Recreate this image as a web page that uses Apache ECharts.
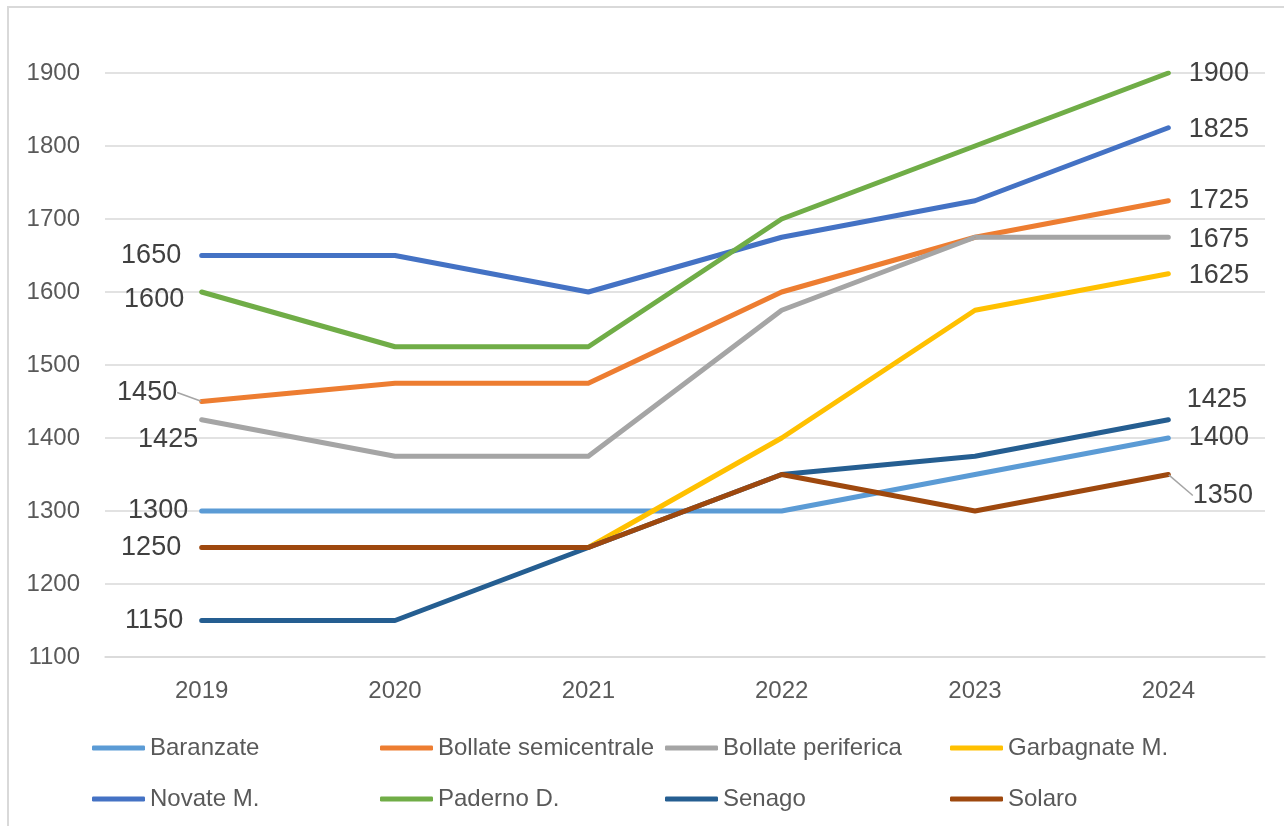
<!DOCTYPE html>
<html>
<head>
<meta charset="utf-8">
<script src="https://cdn.jsdelivr.net/npm/echarts@6/dist/echarts.min.js"></script>
<style>
  html, body { margin: 0; padding: 0; background: #fff; }
  #chart { width: 1284px; height: 826px; }
</style>
</head>
<body>
<div id="chart"></div>
<script>
var years = ['2019', '2020', '2021', '2022', '2023', '2024'];
var yTicks = [1100, 1900, 100];  // min, max, step

var baranzate = [1300, 1300, 1300, 1300, 1350, 1400];
var bollateSemicentrale = [1450, 1475, 1475, 1600, 1675, 1725];
var bollatePeriferica = [1425, 1375, 1375, 1575, 1675, 1675];
var garbagnate = [null, null, 1250, 1400, 1575, 1625];
var novate = [1650, 1650, 1600, 1675, 1725, 1825];
var paderno = [1600, 1525, 1525, 1700, 1800, 1900];
var senago = [1150, 1150, 1250, 1350, 1375, 1425];
var solaro = [1250, 1250, 1250, 1350, 1300, 1350];

var seriesNames = ['Baranzate', 'Bollate semicentrale', 'Bollate periferica', 'Garbagnate M.',
                   'Novate M.', 'Paderno D.', 'Senago', 'Solaro'];
var seriesValues = [baranzate, bollateSemicentrale, bollatePeriferica, garbagnate,
                    novate, paderno, senago, solaro];

// styling, kept apart from the data
var colors = ['#5B9BD5', '#ED7D31', '#A5A5A5', '#FFC000', '#4472C4', '#70AD47', '#255E91', '#9E480E'];
// label placement for first / last point: [dx, dy] ; null = no label
var firstOffsets = [[7, 0], [0, 0], [17, 20], null, [0, 0], [3, 8], [2, 0], [0, 4]];
var lastOffsets = [[0, 0], [0, 2], [0, 2], [0, 2], [0, 2], [0, 1], [-2, -20], [0, 0]];
// labels pushed away with a leader line: series index -> {dataIndex: [dx, dy]}
var leaderMoves = { 1: { 0: [-4, -9] }, 7: { 5: [4, 21] } };
var legendCols = [87, 375, 660, 945];
var legendRows = [731, 782];

var fontFamily = 'Liberation Sans, Arial, sans-serif';

function pointLabel(pos, off) {
  return {
    show: true,
    position: pos,
    distance: 20,
    offset: off,
    fontSize: 27,
    color: '#404040',
    fontFamily: fontFamily
  };
}

function buildData(i) {
  var vals = seriesValues[i];
  var moves = leaderMoves[i] || {};
  var first = -1;
  vals.forEach(function (v, k) { if (first < 0 && v != null) first = k; });
  return vals.map(function (v, k) {
    if (v == null) return null;
    var item = { value: v };
    if (k === first && firstOffsets[i]) {
      item.label = pointLabel('left', firstOffsets[i]);
    } else if (k === vals.length - 1) {
      item.label = pointLabel('right', lastOffsets[i]);
    }
    if (!moves[k]) item.labelLine = { show: false };
    return item;
  });
}

var series = seriesNames.map(function (name, i) {
  var moves = leaderMoves[i];
  return {
    name: name,
    type: 'line',
    data: buildData(i),
    symbol: 'circle',
    symbolSize: 1,
    showSymbol: true,
    connectNulls: false,
    silent: true,
    color: colors[i],
    lineStyle: { width: 5, color: colors[i], cap: 'round', join: 'round' },
    itemStyle: { color: colors[i] },
    label: { show: false },
    labelLine: moves ? { show: true, lineStyle: { color: '#A5A5A5', width: 1.5 } } : { show: false },
    labelLayout: moves ? function (p) {
      var m = moves[p.dataIndex];
      return m ? { dx: m[0], dy: m[1] } : {};
    } : null
  };
});

var legends = seriesNames.map(function (name, i) {
  return {
    data: [name],
    left: legendCols[i % 4],
    top: legendRows[Math.floor(i / 4)],
    itemWidth: 53, itemHeight: 5, itemGap: 0,
    icon: 'roundRect',
    textStyle: { fontSize: 24, color: '#595959', fontFamily: fontFamily }
  };
});

var chart = echarts.init(document.getElementById('chart'));
chart.setOption({
  animation: false,
  backgroundColor: '#fff',
  graphic: [{
    type: 'rect',
    shape: { x: 8, y: 7, width: 1300, height: 840 },
    style: { fill: 'none', stroke: '#D9D9D9', lineWidth: 2 },
    silent: true
  }],
  grid: { left: 105, right: 19, top: 73, bottom: 169, containLabel: false },
  legend: legends,
  xAxis: {
    type: 'category',
    data: years,
    boundaryGap: true,
    axisLine: { show: true, lineStyle: { color: '#D9D9D9', width: 1.5 } },
    axisTick: { show: false },
    axisLabel: { fontSize: 24, color: '#595959', margin: 22, fontFamily: fontFamily }
  },
  yAxis: {
    type: 'value',
    min: yTicks[0],
    max: yTicks[1],
    interval: yTicks[2],
    axisLine: { show: false },
    axisTick: { show: false },
    splitLine: { lineStyle: { color: '#D9D9D9', width: 1.5 } },
    axisLabel: {
      fontSize: 24, color: '#595959', margin: 25, fontFamily: fontFamily,
      formatter: function (v) { return String(v); }
    }
  },
  series: series
});
</script>
</body>
</html>
